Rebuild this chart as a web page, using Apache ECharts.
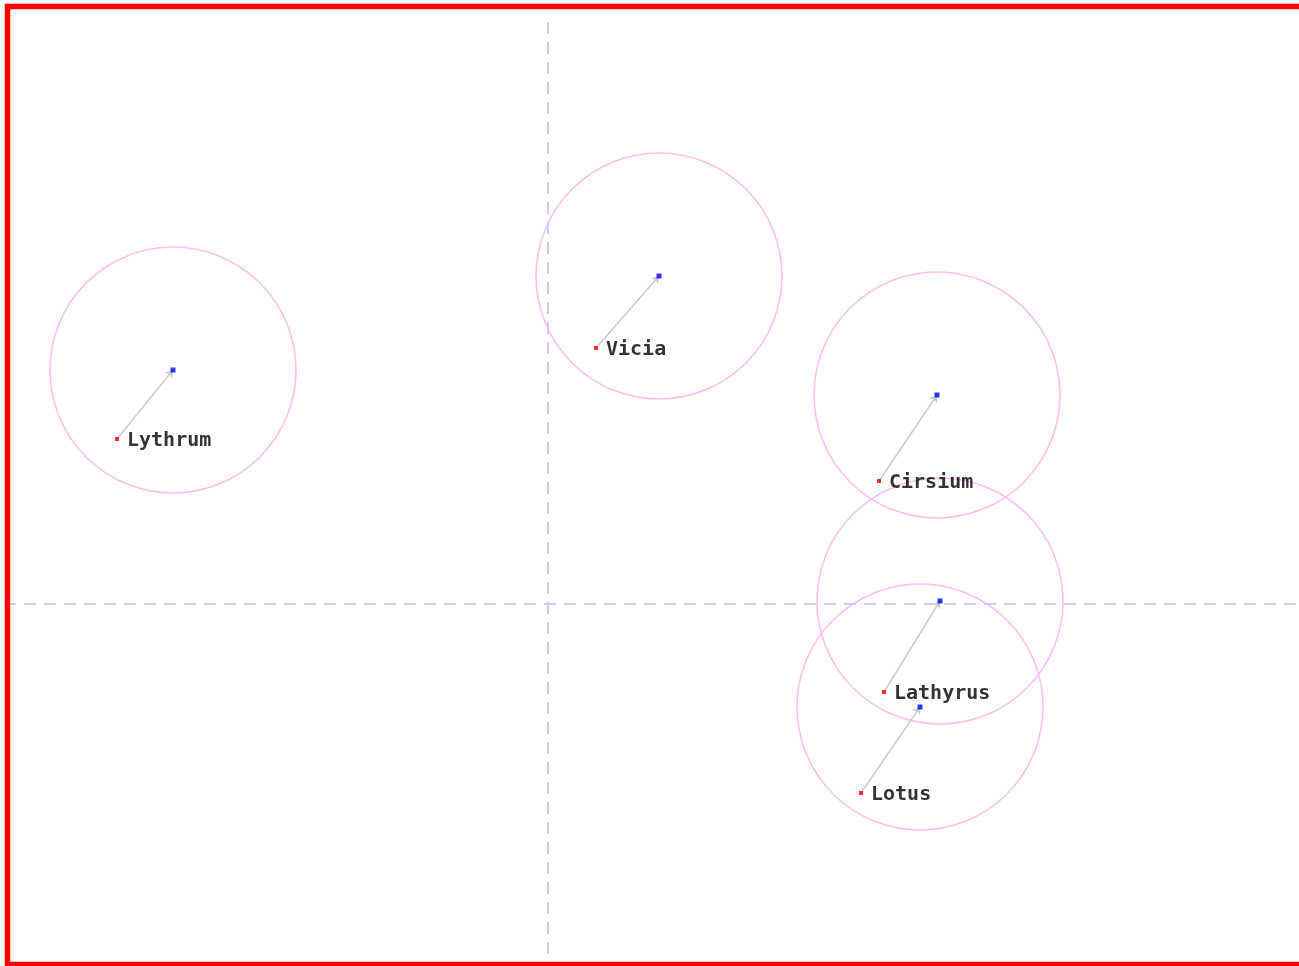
<!DOCTYPE html>
<html>
<head>
<meta charset="utf-8">
<style>
html,body{margin:0;padding:0;background:#fff;}
#chart{width:1299px;height:966px;}
</style>
<script src="https://cdn.jsdelivr.net/npm/echarts@6/dist/echarts.min.js"></script>
</head>
<body>
<div id="chart"></div>
<script>
// Data (ordination units)
const names   = ['Lythrum', 'Vicia', 'Cirsium', 'Lathyrus', 'Lotus'];
const startX  = [-2.155, 0.24, 1.655, 1.68, 1.565];
const startY  = [0.825, 1.28, 0.615, -0.44, -0.945];
const endX    = [-1.875, 0.555, 1.945, 1.96, 1.86];
const endY    = [1.17, 1.64, 1.045, 0.015, -0.515];
const radius  = [0.615, 0.615, 0.615, 0.615, 0.615];

const xMin = -2.74, xMax = 3.755, yMin = -1.81, yMax = 3.02;

const chart = echarts.init(document.getElementById('chart'));

const startPts = names.map((n, i) => [startX[i], startY[i], n]);
const endPts = names.map((n, i) => [endX[i], endY[i]]);
const circles = names.map((n, i) => [endX[i], endY[i], radius[i]]);
const arrows = names.map((n, i) => ({ coords: [[startX[i], startY[i]], [endX[i], endY[i]]] }));

const axisLineStyle = { color: '#ccccff', width: 2, type: [12, 8] };

chart.setOption({
  animation: false,
  backgroundColor: '#fff',
  grid: { left: 0, right: 0, top: 0, bottom: 0, containLabel: false },
  xAxis: {
    type: 'value', min: xMin, max: xMax,
    axisLine: { show: false }, axisTick: { show: false }, axisLabel: { show: false },
    splitLine: { show: false }
  },
  yAxis: {
    type: 'value', min: yMin, max: yMax,
    axisLine: { show: false }, axisTick: { show: false }, axisLabel: { show: false },
    splitLine: { show: false }
  },
  graphic: [{
    type: 'rect', z: 100, silent: true,
    shape: { x: 7.5, y: 6.5, width: 1310, height: 958 },
    style: { fill: 'none', stroke: '#ff0000', lineWidth: 5.5 }
  }],
  series: [
    {
      type: 'line', silent: true, symbol: 'none', data: [],
      markLine: {
        silent: true, symbol: 'none', label: { show: false },
        lineStyle: axisLineStyle,
        data: [
          [{ coord: [0, 2.91] }, { coord: [0, -1.77] }],
          [{ coord: [-2.72, 0] }, { coord: [xMax, 0] }]
        ]
      }
    },
    {
      type: 'custom', silent: true,
      data: circles,
      renderItem: function (params, api) {
        const c = api.coord([api.value(0), api.value(1)]);
        const r = api.size([api.value(2), 0])[0];
        return {
          type: 'circle',
          shape: { cx: c[0], cy: c[1], r: r },
          style: { fill: 'none', stroke: '#ffbfee', lineWidth: 1.6 }
        };
      }
    },
    {
      type: 'lines', coordinateSystem: 'cartesian2d', silent: true,
      symbol: ['none', 'arrow'], symbolSize: 7,
      lineStyle: { color: '#cccccc', width: 1.5, opacity: 1 },
      data: arrows
    },
    {
      type: 'scatter', symbol: 'rect', symbolSize: 5,
      itemStyle: { color: '#0000ff' },
      data: endPts, z: 5
    },
    {
      type: 'scatter', symbol: 'rect', symbolSize: 4,
      itemStyle: { color: '#ff0000' },
      data: startPts, z: 5,
      label: {
        show: true, position: 'right', distance: 8, offset: [0, 2],
        formatter: p => p.data[2],
        color: '#000', fontFamily: 'DejaVu Sans Mono', fontWeight: 'bold', fontSize: 20
      }
    }
  ]
});
</script>
</body>
</html>
